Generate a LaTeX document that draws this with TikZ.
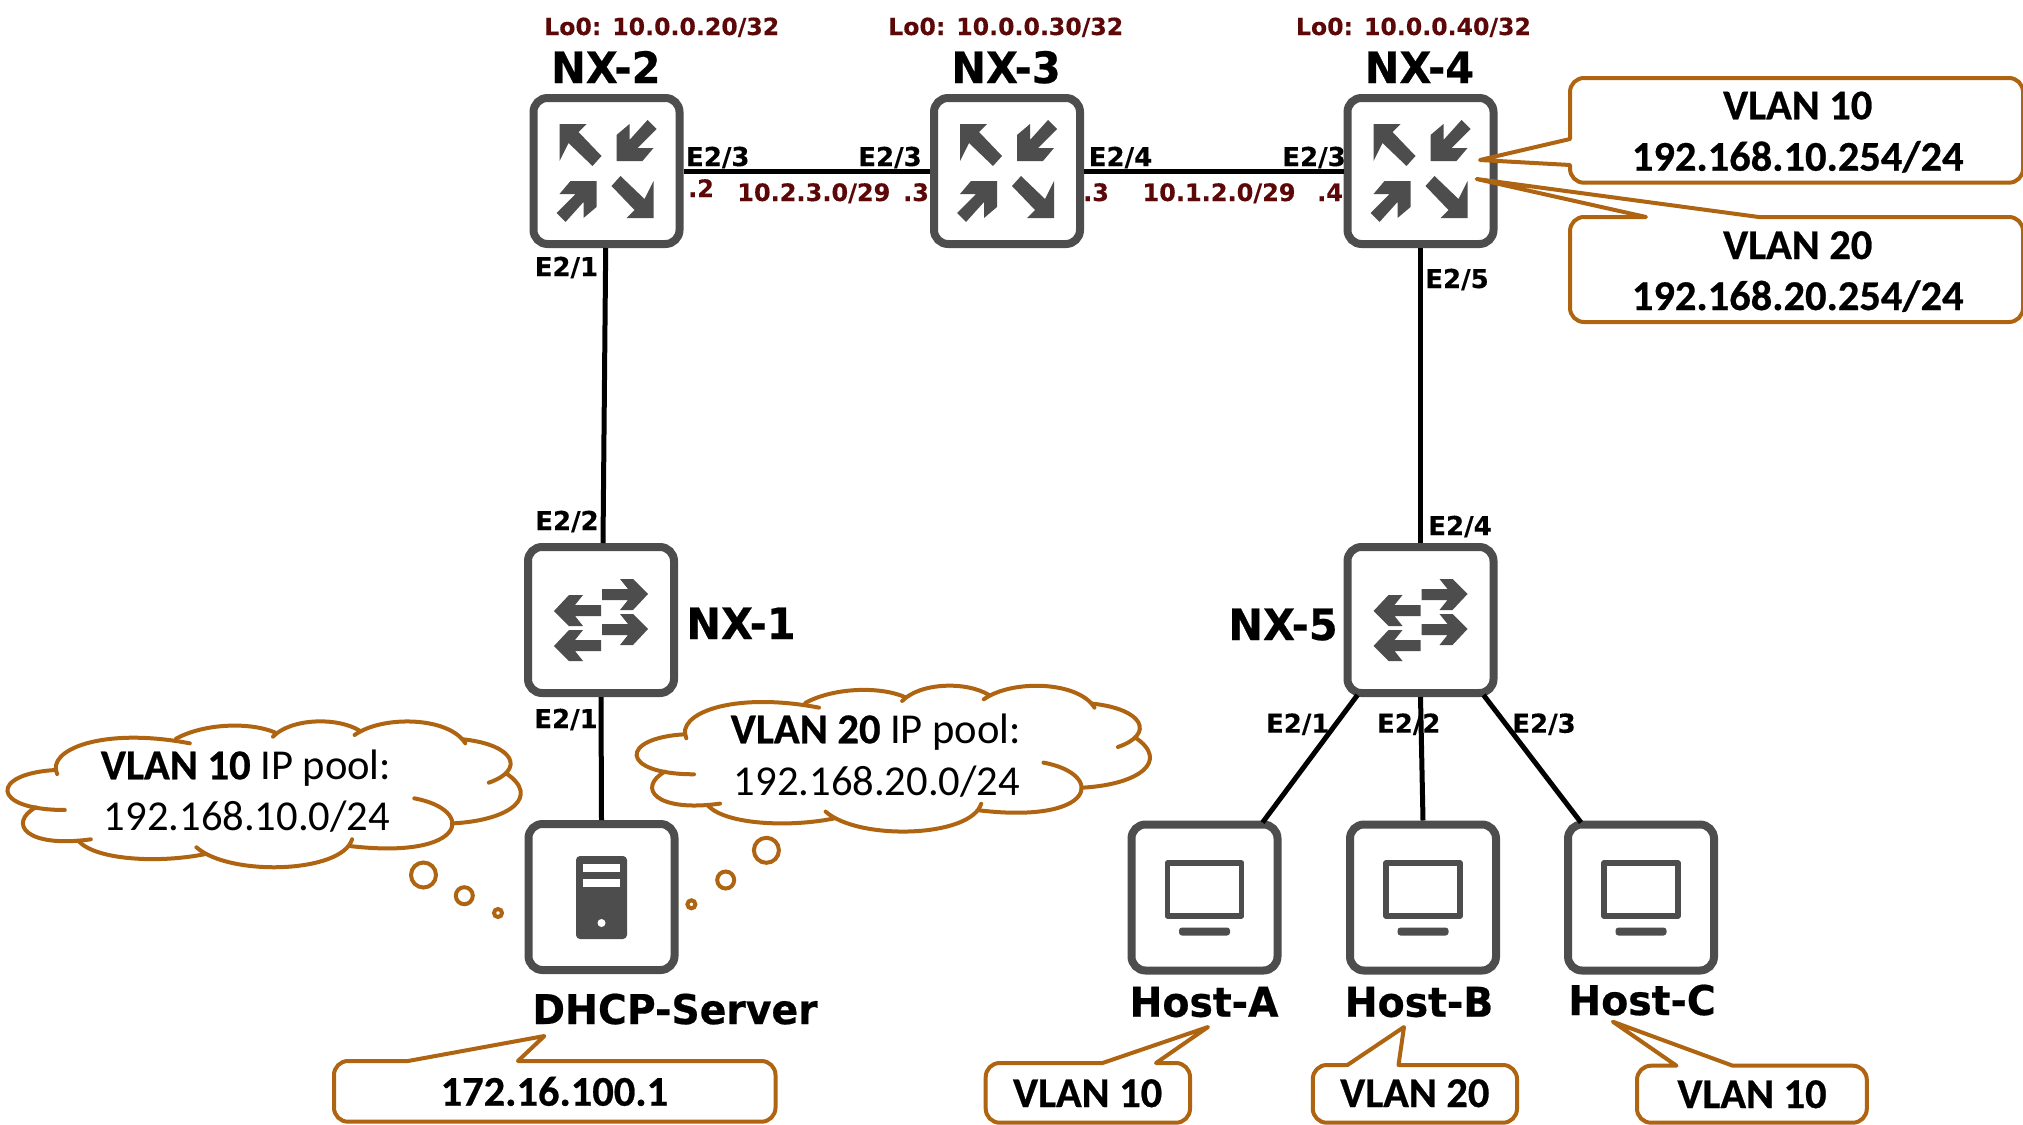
\documentclass[tikz,border=0pt]{standalone}
\usepackage{fontspec}
\setmainfont{Carlito}
\newfontfamily\lab[FakeStretch=0.96,FakeBold=0.5]{DejaVu Sans}
\newfontfamily\labs[FakeBold=0.3]{DejaVu Sans}
\newfontfamily\calb[FakeBold=0.6]{Carlito}
\usetikzlibrary{calc}
\definecolor{icon}{HTML}{4D4D4D}
\definecolor{brownline}{HTML}{AE6410}
\definecolor{maroon}{HTML}{5C0808}
\tikzset{
  dev/.style={draw=icon,line width=4pt,rounded corners=7pt,fill=white,minimum width=73pt,minimum height=73pt,inner sep=0pt},
  link/.style={draw=black,line width=2.5pt},
  iconfill/.style={fill=icon,draw=none},
  txt/.style={inner sep=0pt,outer sep=0pt,anchor=base},
  port/.style={txt,font=\labs\bfseries\fontsize{13}{15}\selectfont,text=black},
  ipl/.style={txt,font=\labs\bfseries\fontsize{12}{14}\selectfont,text=maroon},
  lol/.style={txt,font=\labs\bfseries\fontsize{11.8}{14}\selectfont,text=maroon},
  devname/.style={txt,font=\lab\bfseries\fontsize{21.6}{24}\selectfont,text=black},
  hostname/.style={txt,font=\lab\bfseries\fontsize{20.5}{24}\selectfont,text=black},
  calltxt/.style={txt,font=\calb\bfseries\fontsize{21.2}{25}\selectfont,text=black},
  cloudtxt/.style={txt,font=\fontsize{21.3}{24}\selectfont,text=black},
  callout/.style={draw=brownline,line width=2pt,fill=white,rounded corners=7pt,line join=round},
  cloudline/.style={draw=brownline,line width=2pt},
  bubble/.style={draw=brownline,line width=2pt},
  pics/routericon/.style={code={
    \foreach \r in {0,180}{
      \begin{scope}[rotate=\r]
      \fill[iconfill] (-47,-47)--(-20,-47)--(-28,-39)--(-5,-15)--(-14,-5)--(-38,-28)--(-47,-10)--cycle;
      \fill[iconfill] (10,-10)--(10,-36)--(23,-47)--(23,-31)--(41,-51)--(50,-42)--(31,-23)--(47,-23)--(36,-10)--cycle;
      \end{scope}}
  }},
  pics/switchicon/.style={code={
    \foreach \d in {0,35}{
      \begin{scope}[yshift=-\d*0.5pt]
      \fill[iconfill] (1,-31)--(27,-31)--(19,-41)--(32,-41)--(47,-26)--(32,-10)--(19,-10)--(27,-20)--(1,-20)--cycle;
      \fill[iconfill] (-47,-9)--(-32,-25)--(-18,-25)--(-26,-15)--(0,-15)--(0,-4)--(-26,-4)--(-18,6)--(-32,6)--cycle;
      \end{scope}}
  }},
  pics/servericon/.style={code={
    \fill[iconfill,rounded corners=2pt] (-25.5,-41) rectangle (25.5,42);
    \fill[white] (-18.5,-33) rectangle (18.5,-25);
    \fill[white] (-18.5,-18) rectangle (18.5,-10);
    \fill[white] (0,26) circle[radius=4];
  }},
  pics/hosticon/.style={code={
    \draw[icon,line width=2.8pt,line join=round] (-37,-34.5) rectangle (37,18.5);
    \fill[iconfill,rounded corners=1.5pt] (-25.5,30) rectangle (25.5,38);
  }},
  pics/cloudshape/.style={code={
    \begin{scope}[xscale=0.5102,yscale=0.3333]
    \draw[cloudline,line cap=round] (112,342) .. controls (90,270) and (200,200) .. (372,250);
    \draw[cloudline,line cap=round] (345,236) .. controls (400,190) and (490,185) .. (540,218);
    \draw[cloudline,line cap=round] (535,230) .. controls (570,175) and (660,170) .. (705,212);
    \draw[cloudline,line cap=round] (695,225) .. controls (750,165) and (880,170) .. (912,250);
    \draw[cloudline,line cap=round] (908,238) .. controls (1010,255) and (1030,330) .. (958,368);
    \draw[cloudline,line cap=round] (992,340) .. controls (1060,410) and (1000,480) .. (890,490);
    \draw[cloudline,line cap=round] (812,415) .. controls (935,450) and (915,600) .. (685,558);
    \draw[cloudline,line cap=round] (690,538) .. controls (670,640) and (450,650) .. (385,562);
    \draw[cloudline,line cap=round] (400,583) .. controls (310,610) and (190,600) .. (155,545);
    \draw[cloudline,line cap=round] (178,538) .. controls (50,565) and (15,490) .. (70,442);
    \draw[cloudline,line cap=round] (127,450) .. controls (-20,450) and (-20,340) .. (110,330);
    \end{scope}
  }},
}
\begin{document}
\begin{tikzpicture}[x=0.5pt,y=-0.5pt]
\useasboundingbox (0,0) rectangle (2023,1124);

% devices
\node[dev] (nx2) at (606.5,171) {};
\node[dev] (nx3) at (1007,171) {};
\node[dev] (nx4) at (1420.5,171) {};
\node[dev] (nx1) at (601,620) {};
\node[dev] (nx5) at (1420.5,620) {};
\node[dev] (dhcp) at (601.5,897) {};
\node[dev] (hosta) at (1204.5,897.5) {};
\node[dev] (hostb) at (1423,897.5) {};
\node[dev] (hostc) at (1641,897.5) {};

% connectors
\draw[link] (nx2) -- (nx3);
\draw[link] (nx3) -- (nx4);
\draw[link] ([xshift=-0.4pt]nx2.south) -- ([xshift=1pt]nx1.north);
\draw[link] (nx1.south) -- (dhcp.north);
\draw[link] (nx4.south) -- (nx5.north);
\draw[link] ([xshift=7pt,yshift=1pt]nx5.south west) -- ([xshift=29pt,yshift=-1pt]hosta.north);
\draw[link] (nx5.south) -- (hostb.north);
\draw[link] ([xshift=-7pt,yshift=1pt]nx5.south east) -- ([xshift=-30pt,yshift=-1pt]hostc.north);

% icons
\pic at (nx2) {routericon};
\pic at (nx3) {routericon};
\pic at (nx4) {routericon};
\pic at (nx1) {switchicon};
\pic at (nx5) {switchicon};
\pic at (dhcp) {servericon};
\pic at (hosta) {hosticon};
\pic at (hostb) {hosticon};
\pic at (hostc) {hosticon};

% device names
\node[devname] (tnx2) at (605.8,83) {NX-2};
\node[devname] (tnx3) at (1006,83) {NX-3};
\node[devname] (tnx4) at (1419.4,83) {NX-4};
\node[devname] (tnx1) at (741,639) {NX-1};
\node[devname] (tnx5) at (1283,640) {NX-5};
\node[hostname] (tdhcp) at (675,1024) {DHCP-Server};
\node[hostname] (thosta) at (1204,1016.7) {Host-A};
\node[hostname] (thostb) at (1419,1016.7) {Host-B};
\node[hostname] (thostc) at (1642,1015) {Host-C};

% loopbacks
\node[lol] (lo2) at (661.7,35) {Lo0: 10.0.0.20/32};
\node[lol] (lo3) at (1005.7,35) {Lo0: 10.0.0.30/32};
\node[lol] (lo4) at (1413.4,35) {Lo0: 10.0.0.40/32};

% ports
\node[port] (p1) at (717.8,166) {E2/3};
\node[port] (p2) at (890,166) {E2/3};
\node[port] (p3) at (1120.5,166) {E2/4};
\node[port] (p4) at (1314,166) {E2/3};
\node[port] (p5) at (566.4,276) {E2/1};
\node[port] (p6) at (1457,288) {E2/5};
\node[port] (p7) at (567,530) {E2/2};
\node[port] (p8) at (1460,535) {E2/4};
\node[port] (p9) at (566,728) {E2/1};
\node[port] (p10) at (1297.7,732.7) {E2/1};
\node[port] (p11) at (1408.7,732.7) {E2/2};
\node[port] (p12) at (1544,732.7) {E2/3};

% addresses
\node[ipl] (a1) at (701,197) {.2};
\node[ipl] (a2) at (813.8,201) {10.2.3.0/29};
\node[ipl] (a3) at (916,201) {.3};
\node[ipl] (a4) at (1096,201) {.3};
\node[ipl] (a5) at (1219,201) {10.1.2.0/29};
\node[ipl] (a6) at (1330,201) {.4};

% callouts
\draw[callout] (1570,139) -- (1570,78) -- (2023,78) -- (2023,182.7) -- (1570,182.7) [sharp corners] -- (1570,165) -- (1480,160) -- cycle;
\draw[callout] (1646,217) -- (1570,217) -- (1570,322) -- (2023,322) -- (2023,217) [sharp corners] -- (1758.7,217) -- (1476.6,179) -- cycle;
\draw[callout] (408,1061) -- (334,1061) -- (334,1121.7) -- (775.5,1121.7) -- (775.5,1061) [sharp corners] -- (517.9,1061) -- (544.4,1036) -- cycle;
\draw[callout] (1102.5,1063) -- (985.7,1063) -- (985.7,1122.7) -- (1190,1122.7) -- (1190,1063) [sharp corners] -- (1156,1063) -- (1208,1027) -- cycle;
\draw[callout] (1347.4,1065) -- (1312.8,1065) -- (1312.8,1122.7) -- (1517,1122.7) -- (1517,1065) [sharp corners] -- (1398.5,1065) -- (1404,1027) -- cycle;
\draw[callout] (1676.5,1065.7) -- (1637,1065.7) -- (1637,1122.7) -- (1866.8,1122.7) -- (1866.8,1065.7) [sharp corners] -- (1732.7,1065.7) -- (1612.8,1021.7) -- cycle;

\node[calltxt] (c1a) at (1797.7,119.3) {VLAN 10};
\node[calltxt] (c1b) at (1797.7,170.7) {192.168.10.254/24};
\node[calltxt] (c2a) at (1797.7,259) {VLAN 20};
\node[calltxt] (c2b) at (1797.7,310) {192.168.20.254/24};
\node[calltxt] (c3) at (554.4,1105.7) {172.16.100.1};
\node[calltxt] (c4) at (1087.6,1107) {VLAN 10};
\node[calltxt] (c5) at (1414.8,1107) {VLAN 20};
\node[calltxt] (c6) at (1752,1108) {VLAN 10};

% clouds
\pic at (0,660) {cloudshape};
\pic at (629.2,624.3) {cloudshape};
\node[cloudtxt] (cl1a) at (246,779.3) {{\calb\bfseries VLAN 10} IP pool:};
\node[cloudtxt] (cl1b) at (247,830.7) {192.168.10.0/24};
\node[cloudtxt] (cl2a) at (875.9,743.3) {{\calb\bfseries VLAN 20} IP pool:};
\node[cloudtxt] (cl2b) at (877,795) {192.168.20.0/24};
\draw[bubble] (423.5,875) circle[radius=12.5];
\draw[bubble] (464.3,895.7) circle[radius=8.5];
\draw[bubble] (498,913) circle[radius=4];
\draw[bubble] (766.4,850.3) circle[radius=12.5];
\draw[bubble] (725.7,880) circle[radius=8.5];
\draw[bubble] (691.4,904.3) circle[radius=4];
\end{tikzpicture}
\end{document}
